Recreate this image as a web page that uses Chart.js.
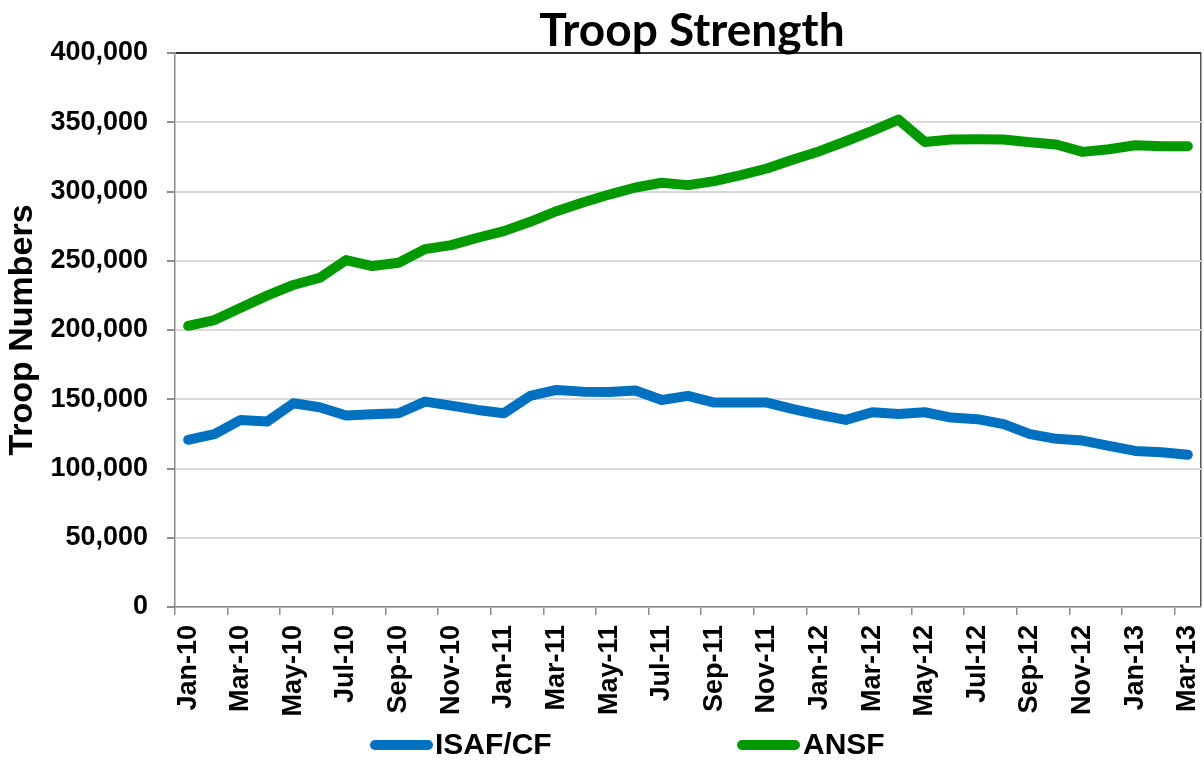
<!DOCTYPE html>
<html>
<head>
<meta charset="utf-8">
<script src="https://cdn.jsdelivr.net/npm/chart.js@4.4.1/dist/chart.umd.min.js"></script>
<style>
  body { margin: 0; background: #fff; }
  #wrap { position: relative; width: 1204px; height: 760px; }
  #title {
    position: absolute; left: 179px; width: 1026px; top: 6px;
    text-align: center; font: bold 46px Lato, sans-serif; line-height: 46px; color: #000;
  }
  .key { position: absolute; top: 729px; font: bold 30px "Liberation Sans", Arial, sans-serif; line-height: 30px; color: #000; }
  .swatch { position: absolute; top: 740px; width: 63px; height: 10px; border-radius: 5px; }
</style>
</head>
<body>
<div id="wrap">
  <canvas id="chart" width="1204" height="760"></canvas>
  <div id="title">Troop Strength</div>
  <div class="swatch" style="left:370px;background:#0070c0"></div>
  <div class="key" style="left:435px">ISAF/CF</div>
  <div class="swatch" style="left:737px;background:#009a00"></div>
  <div class="key" style="left:803px">ANSF</div>
</div>
<script>
const months = [
  'Jan-10', 'Feb-10', 'Mar-10', 'Apr-10', 'May-10', 'Jun-10', 'Jul-10', 'Aug-10', 'Sep-10', 'Oct-10', 'Nov-10', 'Dec-10',
  'Jan-11', 'Feb-11', 'Mar-11', 'Apr-11', 'May-11', 'Jun-11', 'Jul-11', 'Aug-11', 'Sep-11', 'Oct-11', 'Nov-11', 'Dec-11',
  'Jan-12', 'Feb-12', 'Mar-12', 'Apr-12', 'May-12', 'Jun-12', 'Jul-12', 'Aug-12', 'Sep-12', 'Oct-12', 'Nov-12', 'Dec-12',
  'Jan-13', 'Feb-13', 'Mar-13'
];

const isafCf = [
  120700, 124800, 135100, 133900, 147100, 144200, 138200, 139200, 139900, 148300, 145400, 142300,
  139900, 152400, 156700, 155500, 155300, 156300, 149500, 152400, 147600, 147600, 147600, 142800,
  138700, 135100, 140600, 139400, 140600, 136800, 135600, 132000, 124800, 121400, 120200, 116300,
  112700, 111800, 109900
];

const ansf = [
  203000, 207200, 216100, 224800, 232500, 237700, 250500, 246200, 248600, 258400, 261300, 266600,
  271400, 278100, 285800, 292100, 297800, 302900, 306300, 304600, 307500, 311800, 316600, 323100,
  329100, 336300, 343800, 351900, 335800, 337500, 337700, 337500, 335600, 333900, 328600, 330500,
  333400, 332700, 332700
];

const yMax = 400000;
const yStep = 50000;

const axisFont = { family: '"Liberation Sans", Arial, sans-serif', weight: 'bold', size: 27 };

new Chart(document.getElementById('chart'), {
  type: 'line',
  data: {
    labels: months,
    datasets: [
      { label: 'ISAF/CF', data: isafCf, borderColor: '#0070c0', backgroundColor: '#0070c0' },
      { label: 'ANSF', data: ansf, borderColor: '#009a00', backgroundColor: '#009a00' }
    ]
  },
  options: {
    responsive: false,
    animation: false,
    devicePixelRatio: 1,
    layout: { padding: { top: 53, right: 3, bottom: 0, left: 0 } },
    elements: {
      point: { radius: 0 },
      line: { borderWidth: 10, borderCapStyle: 'round', borderJoinStyle: 'round', tension: 0 }
    },
    plugins: {
      legend: { display: false },
      title: { display: false },
      tooltip: { enabled: false }
    },
    scales: {
      x: {
        offset: true,
        afterFit: (scale) => {
          scale.height = 153;
          // rotated labels fit inside the plot, no extra side padding
          scale.paddingLeft = 0;
          scale.paddingRight = 0;
        },
        border: { color: '#8c8c8c', width: 1.5 },
        grid: {
          offset: true,
          tickLength: 8,
          lineWidth: 1.5,
          // only the right edge of the plot box is drawn across the area
          color: (ctx) => ctx.type === 'scale' ? '#555' : 'rgba(0,0,0,0)',
          tickColor: (ctx) => (ctx.type === 'tick' && ctx.index % 2 === 0) ? '#8c8c8c' : 'rgba(0,0,0,0)'
        },
        ticks: {
          autoSkip: false,
          minRotation: 90,
          maxRotation: 90,
          padding: 10,
          color: '#000',
          font: axisFont,
          callback: (value, index) => index % 2 === 0 ? months[index] : ''
        }
      },
      y: {
        min: 0,
        max: yMax,
        afterFit: (scale) => { scale.width = 175; },
        border: { color: '#8c8c8c', width: 1.5 },
        grid: {
          tickLength: 8,
          lineWidth: 2,
          color: (ctx) => (ctx.tick && ctx.tick.value === yMax) ? '#333' : '#d9d9d9',
          tickColor: '#8c8c8c'
        },
        ticks: {
          stepSize: yStep,
          padding: 19,
          color: '#000',
          font: axisFont,
          callback: (value) => value.toLocaleString('en-US')
        },
        title: {
          display: true,
          text: 'Troop Numbers',
          color: '#000',
          font: { family: '"Liberation Sans", Arial, sans-serif', weight: 'bold', size: 34 },
          padding: { top: 2, bottom: 0 }
        }
      }
    }
  }
});
</script>
</body>
</html>
